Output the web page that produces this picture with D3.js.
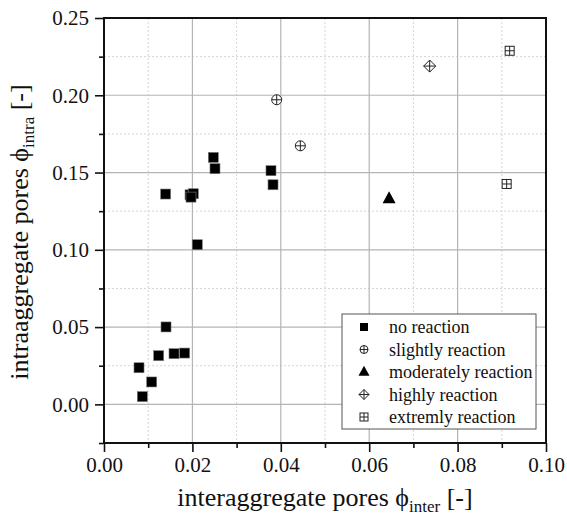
<!DOCTYPE html>
<html><head><meta charset="utf-8">
<script src="https://cdn.jsdelivr.net/npm/d3@7"></script>
<style>body{margin:0;background:#fff}svg{display:block}text{font-family:"Liberation Serif","Times New Roman",serif;fill:#111}</style>
</head><body><svg id="c" width="567" height="515"></svg>
<script>
const noReaction = [
  [0.01403,0.0501],[0.01237,0.0315],[0.01584,0.0328],[0.01825,0.0332],[0.00792,0.0237],
  [0.01079,0.0145],[0.00867,0.0050],[0.02473,0.1598],[0.02511,0.1525],[0.01395,0.1361],
  [0.01946,0.1356],[0.0202,0.1363],[0.01968,0.1341],[0.0211,0.1033],[0.03778,0.1512],[0.03824,0.1421]
];
const slightly = [[0.03907,0.1971],[0.04442,0.1673]];
const moderately = [[0.0645,0.1331]];
const highly = [[0.07368,0.2189]];
const extremely = [[0.09178,0.2288],[0.0911,0.1426]];
const legendLabels = ["no reaction","slightly reaction","moderately reaction","highly reaction","extremly reaction"];
const xTicks = [0,0.02,0.04,0.06,0.08,0.10];
const yTicks = [0,0.05,0.10,0.15,0.20,0.25];
const xMinor = [0.01,0.03,0.05,0.07,0.09];
const yMinor = [-0.025,0.025,0.075,0.125,0.175,0.225];

const svg = d3.select("#c");
const L=104,R=546,T=18,B=443;
const x = d3.scaleLinear().domain([0,0.1]).range([L,R]);
const y = d3.scaleLinear().domain([-0.025,0.25]).range([B,T]);

const g = svg.append("g");
// minor grid
g.selectAll(".mx").data(xMinor).join("line").attr("x1",d=>x(d)).attr("x2",d=>x(d)).attr("y1",T).attr("y2",B)
  .attr("stroke","#d4d4d4").attr("stroke-dasharray","2,2");
g.selectAll(".my").data(yMinor.filter(d=>d>-0.025)).join("line").attr("y1",d=>y(d)).attr("y2",d=>y(d)).attr("x1",L).attr("x2",R)
  .attr("stroke","#d4d4d4").attr("stroke-dasharray","2,2");
// major grid
g.selectAll(".gx").data(xTicks.slice(1,-1)).join("line").attr("x1",d=>x(d)).attr("x2",d=>x(d)).attr("y1",T).attr("y2",B)
  .attr("stroke","#b4b4b4").attr("stroke-width",1.2);
g.selectAll(".gy").data(yTicks.slice(0,-1)).join("line").attr("y1",d=>y(d)).attr("y2",d=>y(d)).attr("x1",L).attr("x2",R)
  .attr("stroke","#b4b4b4").attr("stroke-width",1.2);

// axes
const fmt = d3.format(".2f");
const xa = svg.append("g").attr("transform",`translate(0,${B})`)
  .call(d3.axisBottom(x).tickValues(xTicks).tickFormat(fmt).tickSize(9).tickPadding(5));
svg.append("g").attr("transform",`translate(0,${B})`)
  .call(d3.axisBottom(x).tickValues(xMinor).tickFormat("").tickSize(5)).select(".domain").remove();
const ya = svg.append("g").attr("transform",`translate(${L},0)`)
  .call(d3.axisLeft(y).tickValues(yTicks).tickFormat(fmt).tickSize(9).tickPadding(6));
svg.append("g").attr("transform",`translate(${L},0)`)
  .call(d3.axisLeft(y).tickValues(yMinor).tickFormat("").tickSize(5)).select(".domain").remove();
svg.selectAll(".tick line").attr("stroke","#111").attr("stroke-width",1.6);
svg.selectAll(".domain").remove();
xa.selectAll("text").attr("font-size",21).attr("font-family","Liberation Serif").attr("fill","#111");
ya.selectAll("text").attr("font-size",21).attr("font-family","Liberation Serif").attr("fill","#111");
// frame
svg.append("rect").attr("x",L).attr("y",T).attr("width",R-L).attr("height",B-T)
  .attr("fill","none").attr("stroke","#111").attr("stroke-width",2);

// markers
const sq = 10;
const pts = svg.append("g");
pts.selectAll(".nr").data(noReaction).join("rect")
  .attr("x",d=>x(d[0])-sq/2).attr("y",d=>y(d[1])-sq/2).attr("width",sq).attr("height",sq)
  .attr("fill","#000").attr("stroke","#777").attr("stroke-width",0.6);
function circPlus(sel,r){
  sel.append("circle").attr("r",r).attr("fill","#fff").attr("stroke","#222").attr("stroke-width",1);
  sel.append("path").attr("d",`M${-r},0H${r}M0,${-r}V${r}`).attr("stroke","#222").attr("stroke-width",1);
}
function diamPlus(sel,r){
  sel.append("path").attr("d",`M0,${-r}L${r},0L0,${r}L${-r},0Z`).attr("fill","#fff").attr("stroke","#222").attr("stroke-width",1);
  sel.append("path").attr("d",`M${-r},0H${r}M0,${-r}V${r}`).attr("stroke","#222").attr("stroke-width",1);
}
function sqPlus(sel,r){
  sel.append("rect").attr("x",-r).attr("y",-r).attr("width",2*r).attr("height",2*r).attr("fill","#fff").attr("stroke","#222").attr("stroke-width",1);
  sel.append("path").attr("d",`M${-r},0H${r}M0,${-r}V${r}`).attr("stroke","#222").attr("stroke-width",1);
}
function tri(sel,r){
  sel.append("path").attr("d",`M0,${-r*1.15}L${r},${r*0.7}L${-r},${r*0.7}Z`).attr("fill","#000");
}
pts.selectAll(".sl").data(slightly).join("g").attr("transform",d=>`translate(${x(d[0])},${y(d[1])})`).each(function(){circPlus(d3.select(this),5);});
pts.selectAll(".md").data(moderately).join("g").attr("transform",d=>`translate(${x(d[0])},${y(d[1])})`).each(function(){tri(d3.select(this),6.5);});
pts.selectAll(".hi").data(highly).join("g").attr("transform",d=>`translate(${x(d[0])},${y(d[1])})`).each(function(){diamPlus(d3.select(this),6);});
pts.selectAll(".ex").data(extremely).join("g").attr("transform",d=>`translate(${x(d[0])},${y(d[1])})`).each(function(){sqPlus(d3.select(this),4.5);});

// legend
const lg = svg.append("g");
lg.append("rect").attr("x",342).attr("y",314).attr("width",194).attr("height",115)
  .attr("fill","#fff").attr("stroke","#555").attr("stroke-width",1);
const drawers = [
  s=>s.append("rect").attr("x",-4).attr("y",-4).attr("width",8).attr("height",8).attr("fill","#000"),
  s=>circPlus(s,4),
  s=>tri(s,5.5),
  s=>diamPlus(s,5),
  s=>sqPlus(s,4)
];
legendLabels.forEach((lab,i)=>{
  const cy = 327 + i*22.5;
  const s = lg.append("g").attr("transform",`translate(364,${cy})`);
  drawers[i](s);
  lg.append("text").attr("x",389).attr("y",cy+6).attr("font-size",18).text(lab);
});

// axis titles
const xt = svg.append("text").attr("x",325).attr("y",506).attr("text-anchor","middle").attr("font-size",26);
xt.append("tspan").text("interaggregate pores ϕ");
xt.append("tspan").attr("font-size",17).attr("dy",6).text("inter");
xt.append("tspan").attr("dy",-6).text(" [-]");
const yt = svg.append("text").attr("transform","translate(28,232) rotate(-90)").attr("text-anchor","middle").attr("font-size",26);
yt.append("tspan").text("intraaggregate pores ϕ");
yt.append("tspan").attr("font-size",17).attr("dy",6).text("intra");
yt.append("tspan").attr("dy",-6).text(" [-]");
</script></body></html>
